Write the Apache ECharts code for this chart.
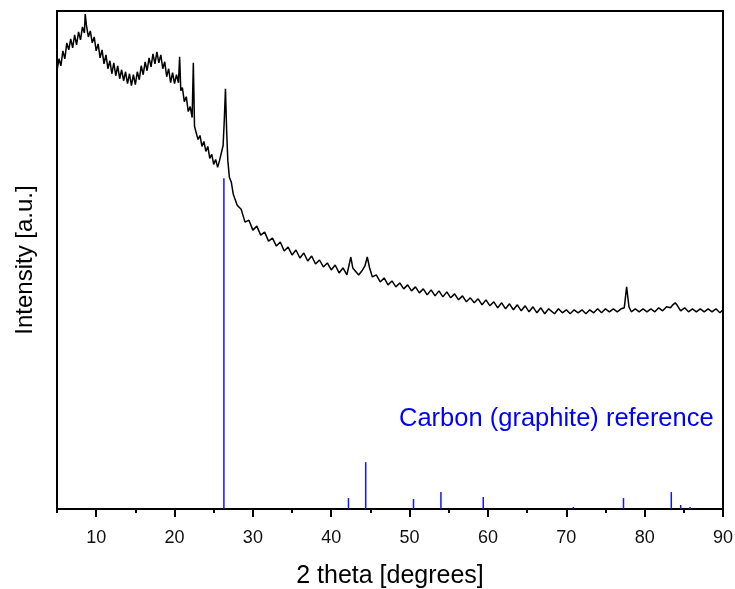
<!DOCTYPE html>
<html>
<head>
<meta charset="utf-8">
<script src="https://cdn.jsdelivr.net/npm/echarts@6/dist/echarts.min.js"></script>
<style>
  html, body { margin: 0; padding: 0; background: #fff; }
  #chart { width: 735px; height: 589px; }
</style>
</head>
<body>
<div id="chart"></div>
<script>
// measured pattern, [2theta, intensity a.u.]
var scan = [
  [5.00, 440], [5.25, 452], [5.50, 445], [5.75, 460], [6.00, 452], [6.25, 468], [6.50, 461], [6.75, 472],
  [7.00, 463], [7.25, 476], [7.50, 466], [7.75, 479], [8.00, 471], [8.25, 484], [8.50, 478], [8.60, 497],
  [8.75, 486], [9.00, 474], [9.25, 480], [9.50, 468], [9.75, 474], [10.00, 460], [10.25, 467], [10.50, 453],
  [10.75, 461], [11.00, 447], [11.25, 456], [11.50, 442], [11.75, 450], [12.00, 437], [12.25, 448], [12.50, 435],
  [12.75, 445], [13.00, 432], [13.25, 441], [13.50, 430], [13.75, 439], [14.00, 427], [14.25, 437], [14.50, 425],
  [14.75, 436], [15.00, 426], [15.25, 439], [15.50, 431], [15.75, 445], [16.00, 436], [16.25, 449], [16.50, 440],
  [16.75, 453], [17.00, 444], [17.25, 457], [17.50, 447], [17.75, 459], [18.00, 448], [18.25, 456], [18.50, 442],
  [18.75, 449], [19.00, 434], [19.25, 442], [19.50, 428], [19.75, 438], [20.00, 427], [20.25, 436], [20.50, 428],
  [20.65, 454], [20.80, 420], [21.00, 423], [21.25, 409], [21.50, 414], [21.75, 399], [22.00, 404], [22.25, 393],
  [22.40, 448], [22.55, 384], [22.75, 385], [23.00, 371], [23.25, 375], [23.50, 364], [23.75, 369], [24.00, 359],
  [24.25, 364], [24.50, 352], [24.75, 356], [25.00, 346], [25.25, 351], [25.50, 343], [25.75, 350], [26.00, 349],
  [26.20, 365], [26.35, 390], [26.50, 422], [26.65, 380], [26.80, 350], [27.00, 333], [27.25, 328], [27.50, 316],
  [27.75, 317], [28.00, 305], [28.50, 301], [29.00, 288], [29.50, 290], [30.00, 280], [30.50, 284], [31.00, 275],
  [31.50, 278], [32.00, 269], [32.50, 272], [33.00, 264], [33.50, 268], [34.00, 259], [34.50, 263], [35.00, 255],
  [35.50, 260], [36.00, 252], [36.50, 257], [37.00, 249], [37.50, 254], [38.00, 246], [38.50, 250], [39.00, 243],
  [39.50, 247], [40.00, 240], [40.50, 245], [41.00, 237], [41.50, 242], [42.00, 235], [42.25, 244], [42.50, 253],
  [42.75, 242], [43.00, 241], [43.50, 235], [44.00, 240], [44.30, 244], [44.60, 253], [44.90, 242], [45.25, 233],
  [45.75, 235], [46.25, 228], [46.75, 232], [47.25, 225], [47.75, 229], [48.25, 223], [48.75, 227], [49.25, 221],
  [49.75, 225], [50.25, 219], [50.75, 223], [51.25, 217], [51.75, 221], [52.25, 215], [52.75, 220], [53.25, 214],
  [53.75, 219], [54.25, 213], [54.75, 218], [55.25, 212], [55.75, 216], [56.25, 210], [56.75, 214], [57.25, 208],
  [57.75, 212], [58.25, 207], [58.75, 211], [59.25, 205], [59.75, 210], [60.25, 204], [60.75, 208], [61.25, 202],
  [61.75, 207], [62.25, 201], [62.75, 206], [63.25, 200], [63.75, 205], [64.25, 199], [64.75, 204], [65.25, 198],
  [65.75, 203], [66.25, 197], [66.75, 202], [67.25, 196], [67.75, 201], [68.50, 196], [69.00, 201], [69.50, 197],
  [70.00, 200], [70.50, 196], [71.00, 200], [71.50, 197], [72.00, 200], [72.50, 196], [73.00, 200], [73.50, 197],
  [74.00, 201], [74.50, 197], [75.00, 201], [75.50, 198], [76.00, 201], [76.50, 198], [77.00, 201], [77.40, 202],
  [77.70, 223], [78.00, 203], [78.30, 198], [78.80, 201], [79.30, 198], [79.80, 201], [80.30, 198], [80.80, 201],
  [81.30, 198], [81.80, 202], [82.30, 199], [82.80, 203], [83.30, 202], [83.60, 205], [83.90, 207], [84.20, 204],
  [84.60, 199], [85.10, 202], [85.60, 198], [86.10, 201], [86.60, 198], [87.10, 201], [87.60, 198], [88.10, 201],
  [88.60, 198], [89.10, 201], [89.60, 197], [90.00, 200]
]

// graphite reference lines
var refTheta = [26.3, 42.2, 44.4, 50.5, 54.0, 59.4, 70.9, 77.3, 83.4, 84.6, 85.8]
var refIntensity = [332, 11, 47, 10, 17, 12, 2, 11, 17, 4, 2]

var majorTicks = [10, 20, 30, 40, 50, 60, 70, 80, 90]
var minorTicks = [5, 15, 25, 35, 45, 55, 65, 75, 85]

var font = 'Liberation Sans, Arial, sans-serif'

var chart = echarts.init(document.getElementById('chart'))

chart.setOption({
  animation: false,
  grid: {
    left: 57,
    right: 12,
    top: 11,
    bottom: 80,
    outerBoundsMode: 'none',
    show: true,
    borderColor: '#000',
    borderWidth: 2
  },
  xAxis: [
    {
      type: 'value',
      min: 5,
      max: 90,
      name: '2 theta [degrees]',
      nameLocation: 'middle',
      nameGap: 55,
      nameTextStyle: { fontFamily: font, fontSize: 25, color: '#000' },
      axisLine: { show: true, onZero: false, lineStyle: { color: '#000', width: 2 } },
      axisTick: { show: true, length: 8, customValues: majorTicks, lineStyle: { color: '#000', width: 2 } },
      axisLabel: { customValues: majorTicks, margin: 20, fontFamily: font, fontSize: 18, color: '#111' },
      splitLine: { show: false }
    },
    {
      type: 'value',
      min: 5,
      max: 90,
      position: 'bottom',
      offset: 0,
      axisLine: { show: false, onZero: false },
      axisTick: { show: true, length: 4, customValues: minorTicks, lineStyle: { color: '#000', width: 2 } },
      axisLabel: { show: false },
      splitLine: { show: false }
    }
  ],
  yAxis: {
    type: 'value',
    min: 0,
    max: 500,
    name: 'Intensity [a.u.]',
    nameLocation: 'middle',
    nameGap: 20,
    nameTextStyle: { fontFamily: font, fontSize: 24, color: '#000' },
    axisLine: { show: false },
    axisTick: { show: false },
    axisLabel: { show: false },
    splitLine: { show: false }
  },
  graphic: [
    {
      type: 'text',
      left: 399,
      top: 406,
      style: {
        text: 'Carbon (graphite) reference',
        fontFamily: font,
        fontSize: 25.5,
        fill: '#0000ff'
      }
    }
  ],
  series: [
    {
      type: 'bar',
      barWidth: 1.5,
      itemStyle: { color: '#1414ff' },
      data: refTheta.map(function (t, i) { return [t, refIntensity[i]] })
    },
    {
      type: 'line',
      symbol: 'none',
      lineStyle: { color: '#000', width: 1.5 },
      data: scan
    }
  ]
})
</script>
</body>
</html>
